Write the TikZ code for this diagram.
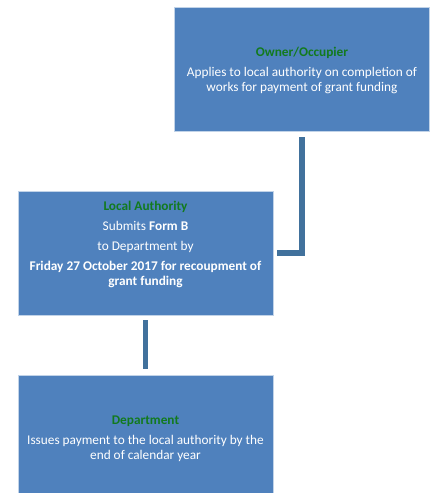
\documentclass[tikz,border=0pt]{standalone}
\usepackage{fontspec}
\setmainfont{Carlito}
\usepackage{tikz}
\definecolor{boxblue}{HTML}{4F81BD}
\definecolor{linkblue}{HTML}{41719C}
\definecolor{headgreen}{RGB}{18,122,30}

\begin{document}
\begin{tikzpicture}[x=1pt,y=-1pt]
\tikzstyle{every node}=[font=\fontsize{13.3}{15}\selectfont]
\tikzstyle{stage}=[draw=boxblue!35!white,fill=boxblue,line width=0.8pt,minimum width=255pt,minimum height=124pt,inner sep=0pt]
\tikzstyle{words}=[text=white,align=center,inner sep=0pt]
\tikzstyle{link}=[draw=linkblue,line width=5.5pt]
\useasboundingbox (0,0) rectangle (433,493);

\node[stage] (owner) at (302,69) {};
\node[stage] (la) at (145.5,253) {};
\node[stage] (dept) at (145.5,437) {};

\node[words] (ownertext) at ([yshift=-1.5pt]owner.center) {\textcolor{headgreen}{\textbf{Owner/Occupier}}\\[5pt]
Applies to local authority on completion of\\ works for payment of grant funding};
\node[words] (latext) at ([yshift=8.5pt]la.center) {\textcolor{headgreen}{\textbf{Local Authority}}\\[5.5pt]
Submits \textbf{Form B}\\[5pt] to Department by\\[5pt]
\textbf{Friday 27 October 2017 for recoupment of}\\ \textbf{grant funding}};
\node[words] (depttext) at ([yshift=-1.5pt]dept.center) {\textcolor{headgreen}{\textbf{Department}}\\[5pt]
Issues payment to the local authority by the\\ end of calendar year};

\draw[link] (owner.south) ++(0,6) |- ([xshift=4pt]la.east);
\draw[link] ([yshift=-5pt]la.south) -- ([yshift=6pt]dept.north);

\end{tikzpicture}
\end{document}
